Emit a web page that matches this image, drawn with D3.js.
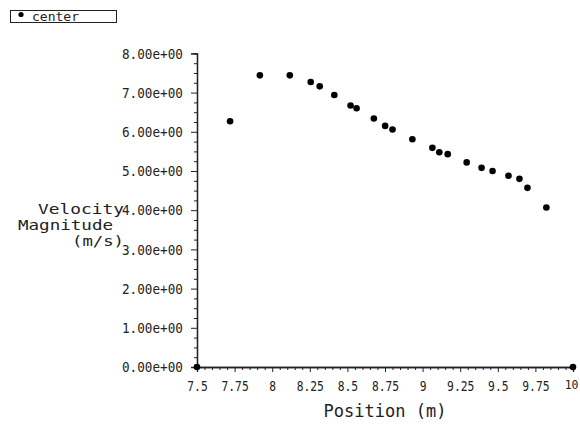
<!DOCTYPE html>
<html><head><meta charset="utf-8">
<script src="https://cdn.jsdelivr.net/npm/d3@7"></script>
<style>body{margin:0;background:#fff}svg{display:block}</style>
</head><body>
<svg id="c" width="580" height="424"></svg>
<script>
const seriesName = "center";
const position = [7.5, 7.72, 7.918, 8.117, 8.256, 8.316, 8.413, 8.521, 8.561, 8.676, 8.751, 8.800, 8.932, 9.065, 9.111, 9.167, 9.293, 9.392, 9.465, 9.571, 9.644, 9.697, 9.823, 10];
const velocity = [0, 6.27, 7.44, 7.44, 7.27, 7.16, 6.94, 6.67, 6.60, 6.34, 6.15, 6.06, 5.81, 5.59, 5.48, 5.43, 5.22, 5.08, 5.00, 4.88, 4.80, 4.57, 4.07, 0];
const xTicks = [7.5, 7.75, 8, 8.25, 8.5, 8.75, 9, 9.25, 9.5, 9.75, 10];
const xTickLabels = ["7.5", "7.75", "8", "8.25", "8.5", "8.75", "9", "9.25", "9.5", "9.75", "10"];
const yTicks = [0, 1, 2, 3, 4, 5, 6, 7, 8];
const yTickLabels = ["0.00e+00","1.00e+00","2.00e+00","3.00e+00","4.00e+00","5.00e+00","6.00e+00","7.00e+00","8.00e+00"];
const xTitle = "Position (m)";
const yTitle = ["Velocity", "Magnitude", "(m/s)"];

const svg = d3.select("#c");
const font = "'DejaVu Sans Mono', monospace";
const ink = "#222";
const x = d3.scaleLinear().domain([7.5, 10]).range([197, 573]);
const y = d3.scaleLinear().domain([0, 8]).range([367, 53.4]);

// x axis
const xMinor = d3.range(7.5, 10.0001, 0.05).filter(v => Math.abs(v*4 - Math.round(v*4)) > 1e-6);
const xa = svg.append("g").attr("transform", `translate(0,${y(0)})`);
xa.call(d3.axisBottom(x).tickValues(xMinor).tickSize(3).tickFormat(""));
xa.append("g").call(d3.axisBottom(x).tickValues(xTicks).tickSize(5).tickFormat((d,i)=>xTickLabels[i]).tickPadding(9));
xa.selectAll(".domain").attr("stroke", ink).attr("stroke-width", 1.3);
xa.selectAll("line").attr("stroke", ink);
xa.selectAll("text").attr("font-family", font).attr("font-size", 14).attr("fill", ink)
  .attr("textLength", function(){ return this.textContent.length * 6.8; })
  .attr("lengthAdjust", "spacingAndGlyphs");
xa.selectAll(".tick text").filter(function(){ return this.textContent === "10"; })
  .attr("text-anchor", "end").attr("x", 5).attr("font-size", 11.5).attr("textLength", null).attr("lengthAdjust", null);

// y axis
const yMinor = d3.range(0, 8.0001, 0.25).filter(v => Math.abs(v - Math.round(v)) > 1e-6);
const ya = svg.append("g").attr("transform", `translate(${x(7.5)},0)`);
ya.call(d3.axisLeft(y).tickValues(yMinor).tickSize(3).tickFormat(""));
ya.append("g").call(d3.axisLeft(y).tickValues(yTicks).tickSize(6).tickFormat((d,i)=>yTickLabels[i]).tickPadding(8));
ya.selectAll(".domain").attr("stroke", ink).attr("stroke-width", 1.3);
ya.selectAll("line").attr("stroke", ink);
ya.selectAll("text").attr("font-family", font).attr("font-size", 14.5).attr("fill", ink)
  .attr("textLength", 61).attr("lengthAdjust", "spacingAndGlyphs");

// points
svg.append("g").selectAll("circle").data(position).join("circle")
  .attr("cx", (d) => x(d)).attr("cy", (d,i) => y(velocity[i])).attr("r", 3.3).attr("fill", "#000");

// titles
svg.append("text").attr("x", 385).attr("y", 417).attr("text-anchor", "middle")
  .attr("font-family", font).attr("font-size", 17).attr("fill", ink).text(xTitle);
const yt = svg.append("g").attr("font-family", font).attr("font-size", 13.5).attr("fill", ink);
yt.append("text").attr("x", 38).attr("y", 214).attr("textLength", 86).attr("lengthAdjust", "spacingAndGlyphs").text(yTitle[0]);
yt.append("text").attr("x", 18).attr("y", 230).attr("textLength", 95).attr("lengthAdjust", "spacingAndGlyphs").text(yTitle[1]);
yt.append("text").attr("x", 72).attr("y", 246).attr("textLength", 52).attr("lengthAdjust", "spacingAndGlyphs").text(yTitle[2]);

// legend
const lg = svg.append("g");
lg.append("rect").attr("x", 10.5).attr("y", 10.5).attr("width", 106).attr("height", 12).attr("fill", "none").attr("stroke", ink);
lg.append("circle").attr("cx", 21).attr("cy", 14.5).attr("r", 2.6).attr("fill", "#000");
lg.append("text").attr("x", 32).attr("y", 21).attr("font-family", font).attr("font-size", 13).attr("fill", ink).text(seriesName);
</script>
</body></html>
